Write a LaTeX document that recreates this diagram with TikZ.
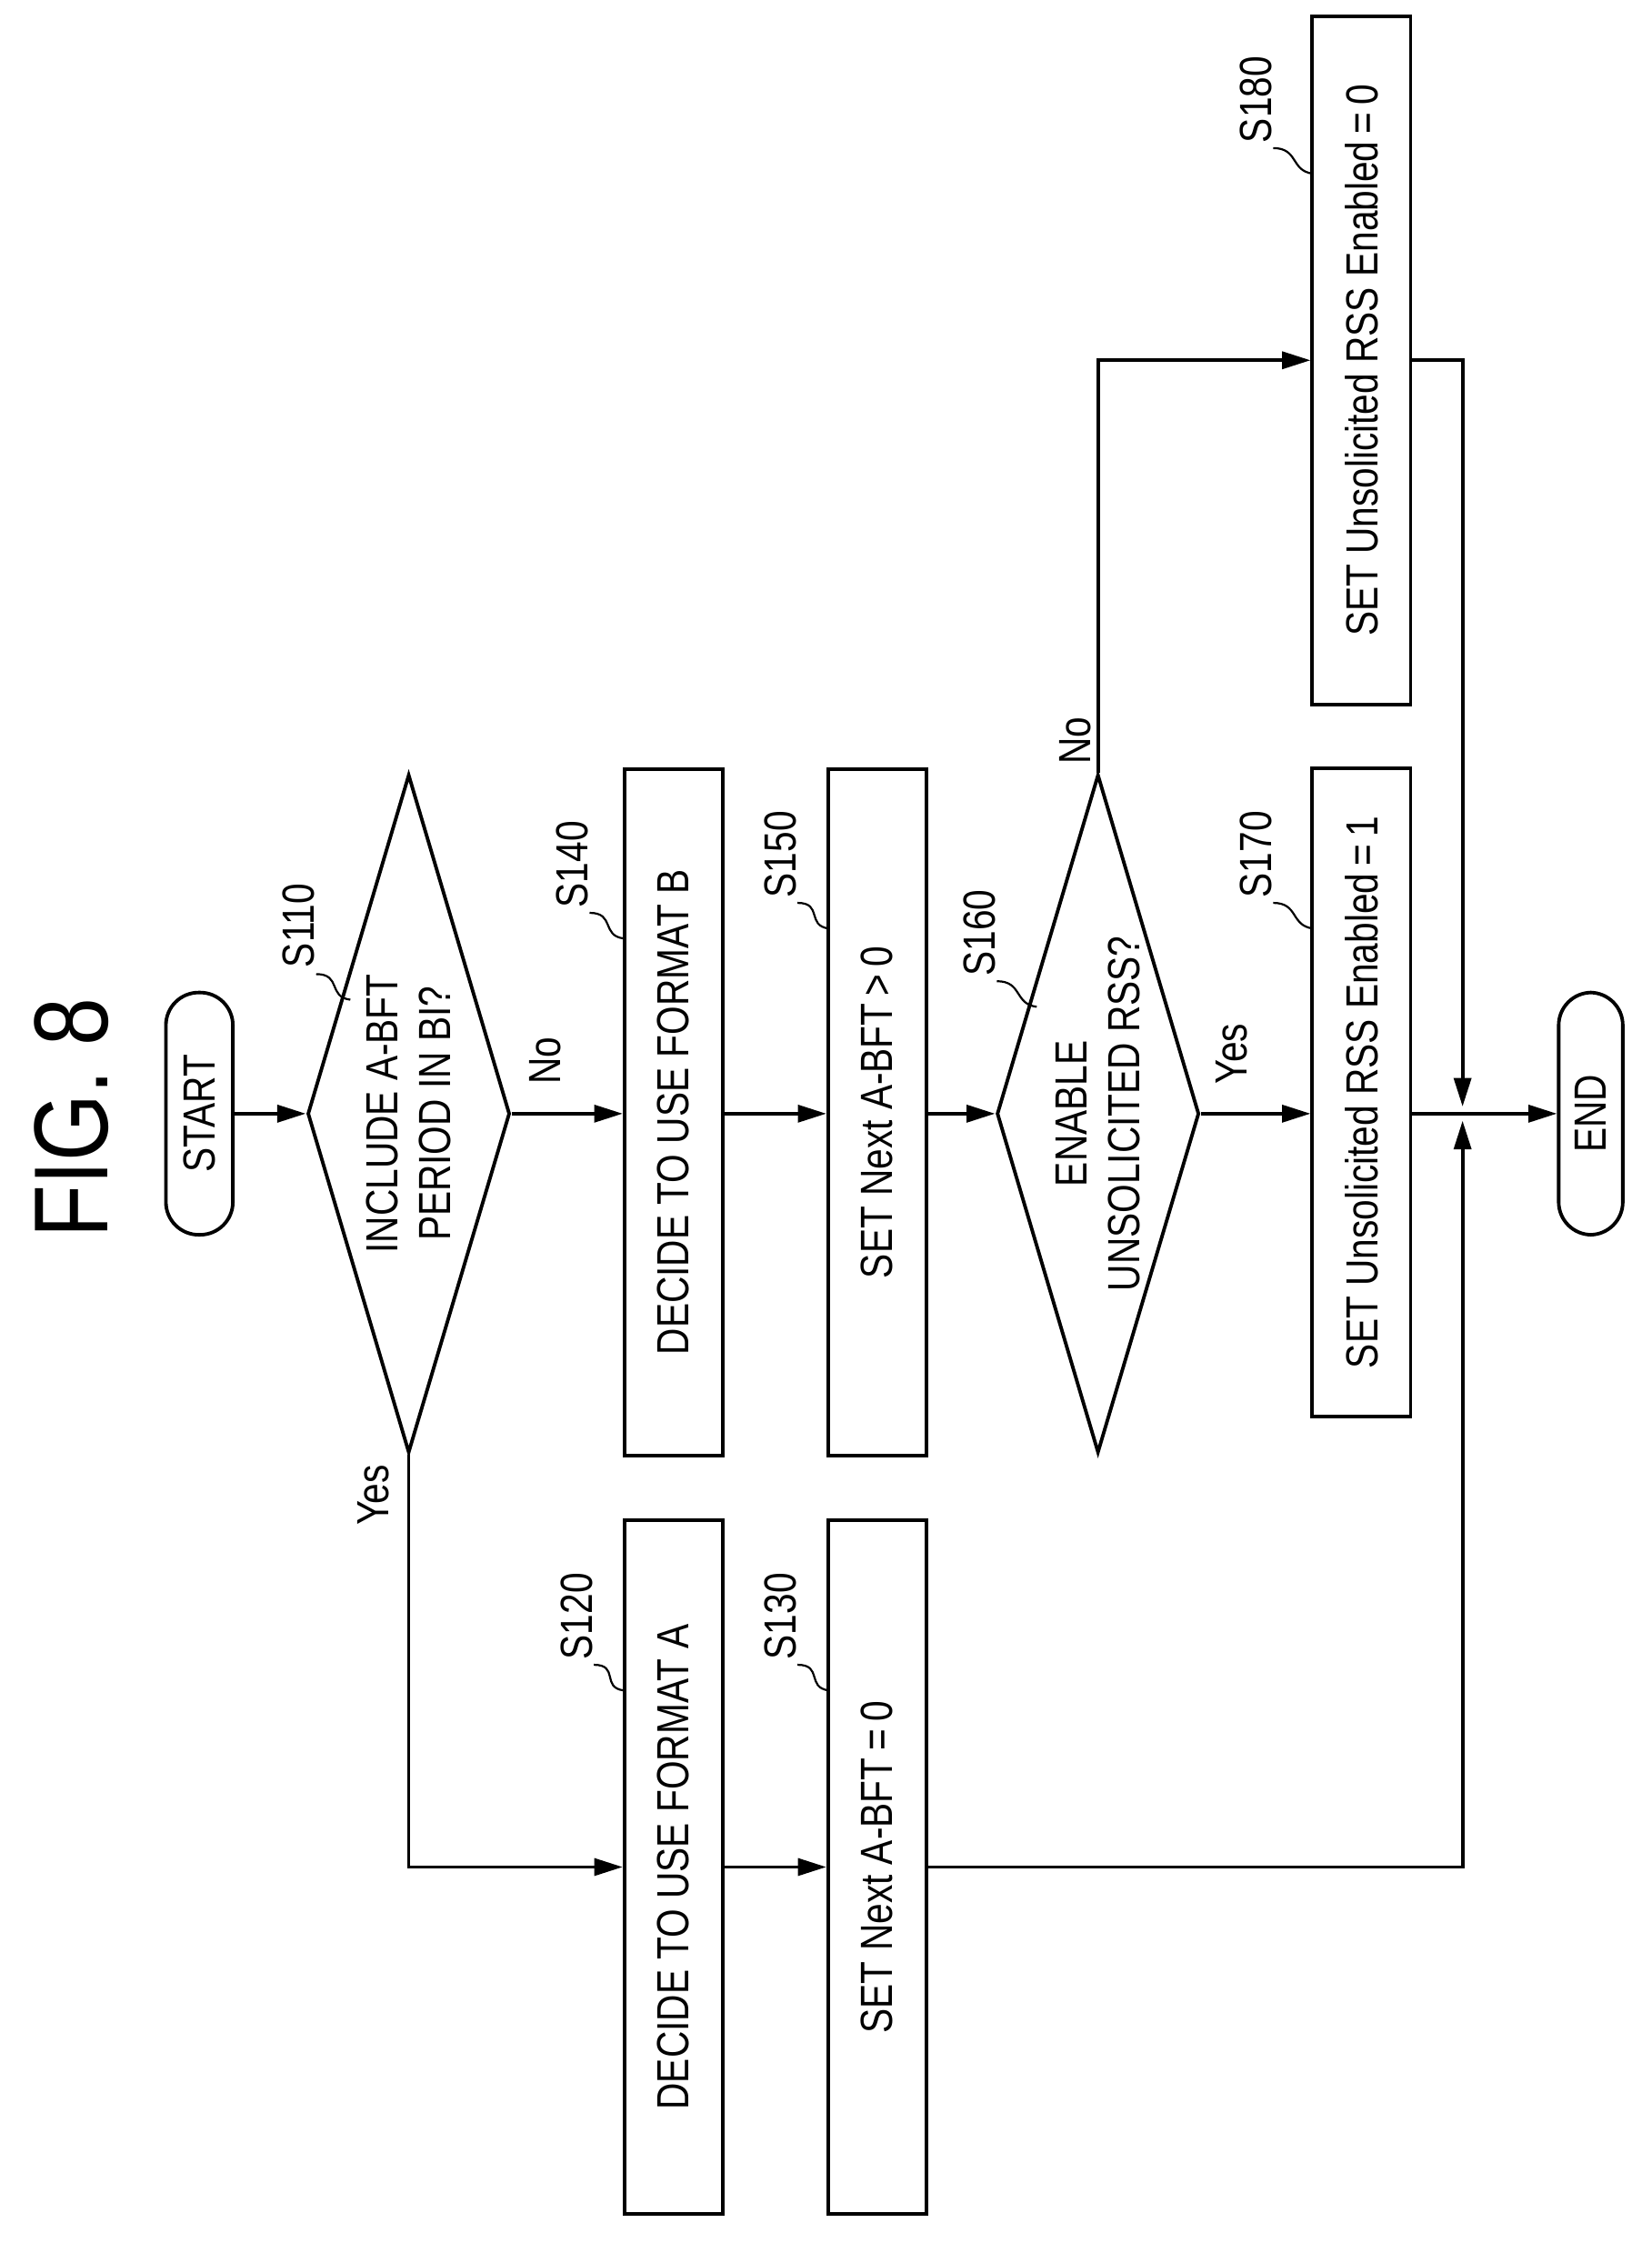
\documentclass[tikz,border=0pt]{standalone}
\usepackage{fontspec}
\setmainfont[FakeStretch=0.82]{Liberation Sans}
\usetikzlibrary{shapes.geometric,arrows.meta,calc}
\begin{document}
\begin{tikzpicture}[x=0.01cm,y=0.01cm,
  every node/.style={font=\fontsize{9}{10.5}\selectfont},
  box/.style={draw,line width=0.7pt,rectangle,rotate=90,inner sep=0pt,minimum height=0.69cm},
  term/.style={draw,line width=0.7pt,rectangle,rounded corners=0.23cm,rotate=90,inner sep=0pt,minimum width=1.70cm,minimum height=0.47cm},
  dia/.style={draw,line width=0.7pt,diamond,rotate=90,inner sep=0pt,minimum width=4.76cm,minimum height=1.42cm},
  txt/.style={rotate=90,align=center,inner sep=0pt},
  lbl/.style={rotate=90,inner sep=0pt},
  flow/.style={line width=0.7pt,-{Triangle[length=0.2cm,width=0.12cm]}},
  lead/.style={line width=0.4pt}]
\useasboundingbox (0,0) rectangle (1160,1575);
\coordinate (r) at (0,793);
\node[lbl,font=\fontsize{21}{24}\selectfont] (fig) at (50,790) {FIG. 8};
\node[term] (start) at (140,793) {START};
\node[dia] (d110) at (287,793) {};
\node[txt] (t110) at (287,793) {INCLUDE A-BFT\\PERIOD IN BI?};
\node[box,minimum width=4.82cm] (s140) at (473,794) {DECIDE TO USE FORMAT B};
\node[box,minimum width=4.82cm] (s150) at (616,794) {SET Next A-BFT\,>\,0};
\node[dia] (d160) at (771,793) {};
\node[txt] (t160) at (771,793) {ENABLE\\UNSOLICITED RSS?};
\node[box,minimum width=4.55cm] (s170) at (956,808) {SET Unsolicited RSS Enabled\,=\,1};
\node[box,minimum width=4.83cm] (s180) at (956,1322) {SET Unsolicited RSS Enabled\,=\,0};
\node[term,minimum height=0.45cm] (end) at (1117,793) {END};
\node[box,minimum width=4.87cm] (s120) at (473,264) {DECIDE TO USE FORMAT A};
\node[box,minimum width=4.87cm] (s130) at (616,264) {SET Next A-BFT\,=\,0};
\coordinate (j) at (1027,793);
% connectors
\draw[flow] (start.south) -- (d110.north);
\draw[flow] (d110.south) -- (s140.north |- r);
\draw[flow] (s140.south |- r) -- (s150.north |- r);
\draw[flow] (s150.south |- r) -- (d160.north);
\draw[flow] (d160.south) -- (s170.north |- r);
\draw[flow] (s170.south |- r) -- (end.north);
\draw[flow] (d110.west) |- (s120.north);
\draw[flow] (s120.south) -- (s130.north);
\draw[flow,shorten >=0.05cm] (s130.south) -| (j);
\draw[flow] (d160.east) |- (s180.north);
\draw[flow,shorten >=0.05cm] (s180.south) -| (j);
% branch labels
\node[lbl] (no1) at (383,830) {No};
\node[lbl] (yes1) at (262,525) {Yes};
\node[lbl] (no2) at (755,1055) {No};
\node[lbl] (yes2) at (865,835) {Yes};
% step labels
\foreach \n/\x/\y/\ex in {S110/210/925/246, S120/405/440/438, S130/548/440/582, S140/402/968/438, S150/548/975/582, S160/688/920/728, S170/882/975/922, S180/882/1505/922}{
  \node[lbl] (l\n) at (\x,\y) {\n};
  \draw[lead] ($(\x,\y)+(12,-34)$) .. controls ($(\x,\y)+(30,-34)$) and ($(\ex,\y)+(-16,-50)$) .. (\ex,\y-52);
}
\end{tikzpicture}
\end{document}
